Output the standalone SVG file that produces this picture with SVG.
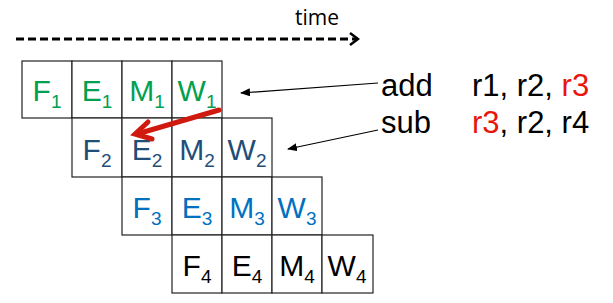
<svg xmlns="http://www.w3.org/2000/svg" width="613" height="303" viewBox="0 0 613 303">
<defs>
<style>
.cell{fill:#fff;stroke:#222;stroke-width:1.2}
.lbl{font-family:"Liberation Sans",Arial,sans-serif;font-size:30px;text-anchor:middle}
.sub{font-size:19px}
.r1{fill:#00A050}.r2{fill:#1F4E79}.r3{fill:#0070C0}.r4{fill:#000}
.ins{font-family:"Liberation Sans",Arial,sans-serif;font-size:31px;fill:#000}
.red{fill:#E8150C}
</style>
<marker id="ah" markerWidth="10" markerHeight="8" refX="9" refY="4" orient="auto" markerUnits="userSpaceOnUse">
<path d="M0,0 L10,4 L0,8 z" fill="#000"/>
</marker>
<marker id="open" markerWidth="12" markerHeight="14" refX="10" refY="7" orient="auto" markerUnits="userSpaceOnUse">
<path d="M2,1 L10,7 L2,13" fill="none" stroke="#000" stroke-width="2.5"/>
</marker>
</defs>
<text x="295" y="25" font-family="'Open Sans','Liberation Sans',sans-serif" font-size="21" fill="#000">time</text>
<g id="row1">
<rect class="cell" x="22" y="61" width="50" height="57"/><rect class="cell" x="72" y="61" width="50" height="57"/><rect class="cell" x="122" y="61" width="50" height="57"/><rect class="cell" x="172" y="61" width="50" height="57"/>
<text class="lbl r1" x="47" y="101">F<tspan class="sub" dy="7">1</tspan></text>
<text class="lbl r1" x="97" y="101">E<tspan class="sub" dy="7">1</tspan></text>
<text class="lbl r1" x="147" y="101">M<tspan class="sub" dy="7">1</tspan></text>
<text class="lbl r1" x="197" y="101">W<tspan class="sub" dy="7">1</tspan></text>
</g>
<g id="row2">
<rect class="cell" x="72" y="118" width="50" height="59"/><rect class="cell" x="122" y="118" width="50" height="59"/><rect class="cell" x="172" y="118" width="50" height="59"/><rect class="cell" x="222" y="118" width="50" height="59"/>
<text class="lbl r2" x="97" y="160">F<tspan class="sub" dy="7">2</tspan></text>
<text class="lbl r2" x="147" y="160">E<tspan class="sub" dy="7">2</tspan></text>
<text class="lbl r2" x="197" y="160">M<tspan class="sub" dy="7">2</tspan></text>
<text class="lbl r2" x="247" y="160">W<tspan class="sub" dy="7">2</tspan></text>
</g>
<g id="row3">
<rect class="cell" x="122" y="177" width="50" height="58"/><rect class="cell" x="172" y="177" width="50" height="58"/><rect class="cell" x="222" y="177" width="50" height="58"/><rect class="cell" x="272" y="177" width="50" height="58"/>
<text class="lbl r3" x="147" y="218">F<tspan class="sub" dy="7">3</tspan></text>
<text class="lbl r3" x="197" y="218">E<tspan class="sub" dy="7">3</tspan></text>
<text class="lbl r3" x="247" y="218">M<tspan class="sub" dy="7">3</tspan></text>
<text class="lbl r3" x="297" y="218">W<tspan class="sub" dy="7">3</tspan></text>
</g>
<g id="row4">
<rect class="cell" x="172" y="235" width="50" height="58"/><rect class="cell" x="222" y="235" width="50" height="58"/><rect class="cell" x="272" y="235" width="50" height="58"/><rect class="cell" x="322" y="235" width="51" height="58"/>
<text class="lbl r4" x="197" y="276">F<tspan class="sub" dy="7">4</tspan></text>
<text class="lbl r4" x="247" y="276">E<tspan class="sub" dy="7">4</tspan></text>
<text class="lbl r4" x="297" y="276">M<tspan class="sub" dy="7">4</tspan></text>
<text class="lbl r4" x="347" y="276">W<tspan class="sub" dy="7">4</tspan></text>
</g>
<g id="instr1">
<text class="ins" x="381" y="96">add</text>
<text class="ins" x="472" y="96">r1, r2, <tspan class="red">r3</tspan></text>
</g>
<g id="instr2">
<text class="ins" x="381" y="133">sub</text>
<text class="ins" x="472" y="133"><tspan class="red">r3</tspan>, r2, r4</text>
</g>
<g id="connectors">
<line x1="16" y1="39" x2="358" y2="39" stroke="#000" stroke-width="3" stroke-dasharray="8,4" marker-end="url(#open)"/>
<line x1="378" y1="83" x2="241" y2="93" stroke="#000" stroke-width="1.2" marker-end="url(#ah)"/>
<line x1="378" y1="130" x2="288" y2="149" stroke="#000" stroke-width="1.2" marker-end="url(#ah)"/>
<line x1="219" y1="110" x2="137" y2="134" stroke="#D01A10" stroke-width="5" stroke-linecap="round"/>
<path d="M148,122 L135,134 L152,139" fill="none" stroke="#D01A10" stroke-width="5" stroke-linecap="round" stroke-linejoin="miter"/>
</g>
</svg>
